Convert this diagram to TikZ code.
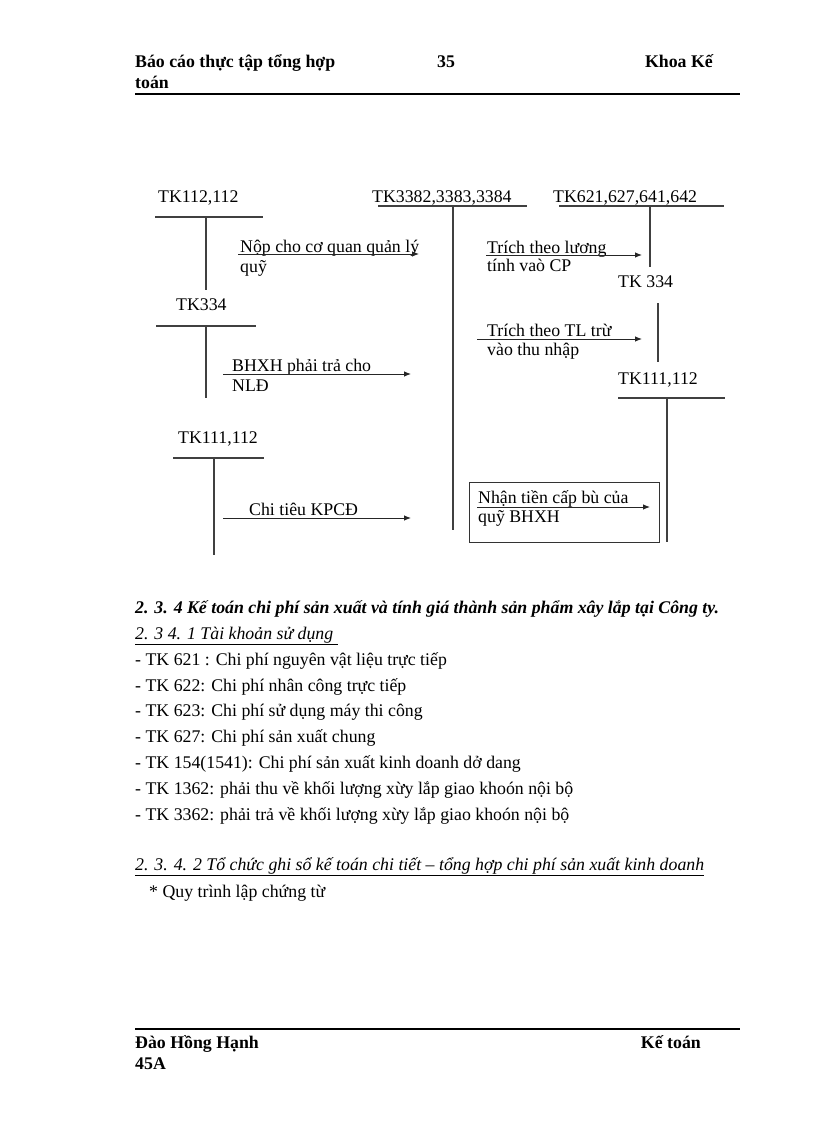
\documentclass[tikz,border=0pt]{standalone}
\usepackage{fontspec}
\setmainfont{Liberation Serif}
\usetikzlibrary{arrows.meta}
\begin{document}
\begin{tikzpicture}[x=1pt,y=-1pt,
  txt/.style={anchor=base west, inner sep=0pt, font=\fontsize{17.8}{21}\selectfont},
  dtxt/.style={anchor=base west, inner sep=0pt, font=\fontsize{17.8}{21}\selectfont},
  acc/.style={line width=1.1pt, draw=black!75},
  arr/.style={line width=0.9pt, draw=black!85, -{Latex[length=7pt,width=5.5pt]}},
  rule/.style={line width=2pt}]
\useasboundingbox[fill=white] (0,0) rectangle (816,1123);
% header
\node[txt] (h1) at (135,68) {\bfseries Báo cáo thực tập tổng hợp};
\node[txt] (h2) at (135,89) {\bfseries toán};
\node[txt,anchor=base] (hp) at (446,68) {\bfseries 35};
\node[txt,anchor=base east] (hk) at (713,68) {\bfseries Khoa Kế};
\draw[rule] (135,94) -- (740,94);
% ---- diagram ----
% TK112,112
\node[dtxt] (ta) at (158,203) {TK112,112};
\draw[acc] (155,217) -- (263,217);
\draw[acc] (206,217) -- (206,290);
% TK3382
\node[dtxt] (tb) at (372,203) {TK3382,3383,3384};
\draw[acc] (378,206) -- (527,206);
\draw[acc] (453,206) -- (453,530);
% TK621
\node[dtxt] (tc) at (553,203) {TK621,627,641,642};
\draw[acc] (559,206) -- (724,206);
\draw[acc] (650,206) -- (650,267);
% TK 334 right
\node[dtxt] (td) at (618,287) {TK 334};
\draw[acc] (658,303) -- (658,362);
% TK111,112 right
\node[dtxt] (te) at (618,384) {TK111,112};
\draw[acc] (618,398) -- (725,398);
\draw[acc] (667,398) -- (667,542);
% TK334 left
\node[dtxt] (tf) at (176,310) {TK334};
\draw[acc] (156,326) -- (256,326);
\draw[acc] (206,326) -- (206,398);
% TK111,112 left
\node[dtxt] (tg) at (178,443) {TK111,112};
\draw[acc] (173,458) -- (264,458);
\draw[acc] (214,458) -- (214,555);
% arrows with labels
\node[dtxt] (l1a) at (240,252) {Nộp cho cơ quan quản lý};
\node[dtxt] (l1b) at (240,272) {quỹ};
\coordinate (a1s) at (238,254); \coordinate (a1e) at (419,254);
\draw[arr] (a1s) -- (a1e);
\node[dtxt] (l2a) at (487,253) {Trích theo lương};
\node[dtxt] (l2b) at (487,271) {tính vaò CP};
\coordinate (a2s) at (486,255); \coordinate (a2e) at (642,255);
\draw[arr] (a2s) -- (a2e);
\node[dtxt] (l3a) at (487,336) {Trích theo TL trừ};
\node[dtxt] (l3b) at (487,355) {vào thu nhập};
\coordinate (a3s) at (477,339); \coordinate (a3e) at (642,339);
\draw[arr] (a3s) -- (a3e);
\node[dtxt] (l4a) at (232,371) {BHXH phải trả cho};
\node[dtxt] (l4b) at (232,391) {NLĐ};
\coordinate (a4s) at (223,374); \coordinate (a4e) at (411,374);
\draw[arr] (a4s) -- (a4e);
\node[dtxt] (l5a) at (249,515) {Chi tiêu KPCĐ};
\coordinate (a5s) at (223,518); \coordinate (a5e) at (411,518);
\draw[arr] (a5s) -- (a5e);
\draw[line width=0.9pt, draw=black!80] (469,482) rectangle (659,542);
\node[dtxt] (l6a) at (478,503) {Nhận tiền cấp bù của};
\node[dtxt] (l6b) at (478,522) {quỹ BHXH};
\coordinate (a6s) at (477,507); \coordinate (a6e) at (650,507);
\draw[arr] (a6s) -- (a6e);
% ---- body ----
\node[txt] (s1) at (135,613) {\bfseries\itshape 2. 3. 4 Kế toán chi phí sản xuất và tính giá thành sản phẩm xây lắp tại Công ty.};
\node[txt] (s2) at (135,639) {\itshape\underline{2. 3 4. 1 Tài khoản sử dụng\ }};
\node[txt] (i1) at (135,665) {- TK 621 : Chi phí nguyên vật liệu trực tiếp};
\node[txt] (i2) at (135,691) {- TK 622: Chi phí nhân công trực tiếp};
\node[txt] (i3) at (135,716.5) {- TK 623: Chi phí sử dụng máy thi công};
\node[txt] (i4) at (135,742) {- TK 627: Chi phí sản xuất chung};
\node[txt] (i5) at (135,768) {- TK 154(1541): Chi phí sản xuất kinh doanh dở dang};
\node[txt] (i6) at (135,794) {- TK 1362: phải thu về khối lượng xừy lắp giao khoón nội bộ};
\node[txt] (i7) at (135,820) {- TK 3362: phải trả về khối lượng xừy lắp giao khoón nội bộ};
\node[txt] (s3) at (135,870) {\itshape\underline{2. 3. 4. 2 Tổ chức ghi sổ kế toán chi tiết – tổng hợp chi phí sản xuất kinh doanh}};
\node[txt] (s4) at (149,897) {* Quy trình lập chứng từ};
% footer
\draw[rule] (135,1029) -- (740,1029);
\node[txt] (f1) at (135,1048) {\bfseries Đào Hồng Hạnh};
\node[txt] (f2) at (135,1069) {\bfseries 45A};
\node[txt,anchor=base east] (f3) at (701,1048) {\bfseries Kế toán};
\end{tikzpicture}
\end{document}
